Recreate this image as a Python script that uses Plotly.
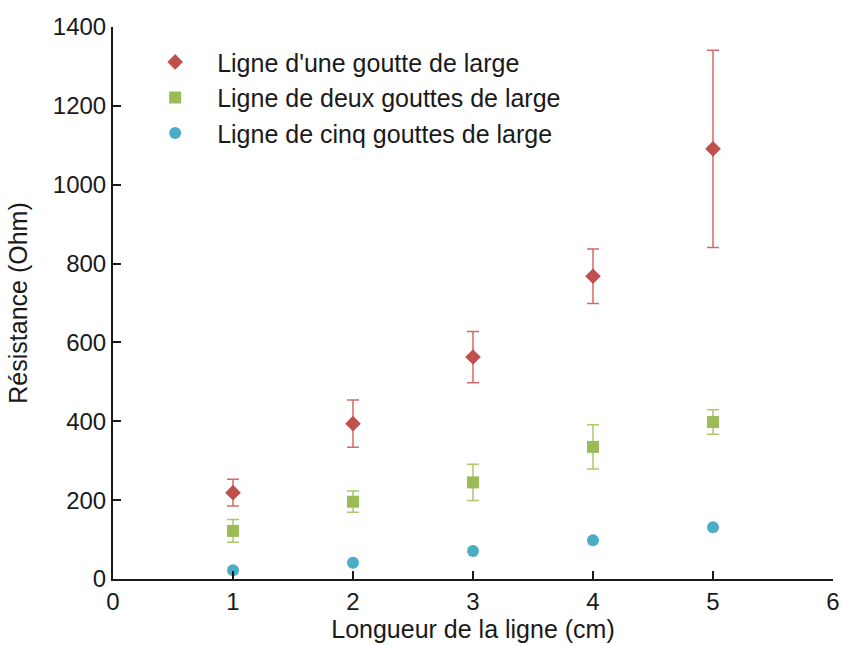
import plotly.graph_objects as go

x_vals = [1, 2, 3, 4, 5]

one_drop = [219, 394, 563, 768, 1091]
one_drop_err = [34, 60, 65, 69, 250]

two_drops = [122, 196, 245, 335, 398]
two_drops_err = [29, 27, 46, 56, 31]

five_drops = [22, 41, 71, 98, 131]

names = ["Ligne d'une goutte de large",
         "Ligne de deux gouttes de large",
         "Ligne de cinq gouttes de large"]

x_ticks = [0, 1, 2, 3, 4, 5, 6]
y_ticks = [0, 200, 400, 600, 800, 1000, 1200, 1400]

FONT = "Liberation Sans, Arial, sans-serif"
FS_TICK = 24
FS_TEXT = 25

fig = go.Figure()
fig.add_trace(go.Scatter(
    x=x_vals, y=one_drop, mode="markers", name=names[0], legendgroup="a",
    marker=dict(symbol="diamond", size=12, color="#c0504d"),
    error_y=dict(type="data", array=one_drop_err, visible=True,
                 color="#d46a68", thickness=1.5, width=6),
))
fig.add_trace(go.Scatter(
    x=x_vals, y=two_drops, mode="markers", name=names[1], legendgroup="b",
    marker=dict(symbol="square", size=12, color="#9bbb59"),
    error_y=dict(type="data", array=two_drops_err, visible=True,
                 color="#a9c96a", thickness=1.5, width=6),
))
fig.add_trace(go.Scatter(
    x=x_vals, y=five_drops, mode="markers", name=names[2], legendgroup="c",
    marker=dict(symbol="circle", size=12, color="#4bacc6"),
))

fig.update_layout(
    width=842, height=646,
    margin=dict(l=113, r=9, t=27, b=67, autoexpand=False),
    plot_bgcolor="white", paper_bgcolor="white",
    font=dict(family=FONT, size=FS_TICK, color="#1a1a1a"),
    showlegend=True,
    legend=dict(x=0.028, y=0.978, xanchor="left", yanchor="top",
                bgcolor="rgba(0,0,0,0)", font=dict(size=FS_TEXT, family=FONT),
                tracegroupgap=0, itemsizing="constant", itemwidth=74),
    xaxis=dict(range=[0, 6], tickvals=x_ticks, ticks="inside", ticklen=8,
               tickwidth=2, tickcolor="#1a1a1a", automargin=False,
               showline=True, linecolor="#1a1a1a", linewidth=2,
               showgrid=False, zeroline=False,
               title=dict(text="Longueur de la ligne (cm)", font=dict(size=FS_TEXT), standoff=4),
               tickfont=dict(size=FS_TICK)),
    yaxis=dict(range=[0, 1400], tickvals=y_ticks, ticks="inside", ticklen=8,
               tickwidth=2, tickcolor="#1a1a1a", automargin=False,
               showline=True, linecolor="#1a1a1a", linewidth=2,
               showgrid=False, zeroline=False,
               title=dict(text="Résistance (Ohm)", font=dict(size=FS_TEXT), standoff=18),
               tickfont=dict(size=FS_TICK)),
)

fig.write_html("out.html", config={"displayModeBar": False},
               post_script="document.body.style.margin='0';document.body.style.overflow='hidden';")
